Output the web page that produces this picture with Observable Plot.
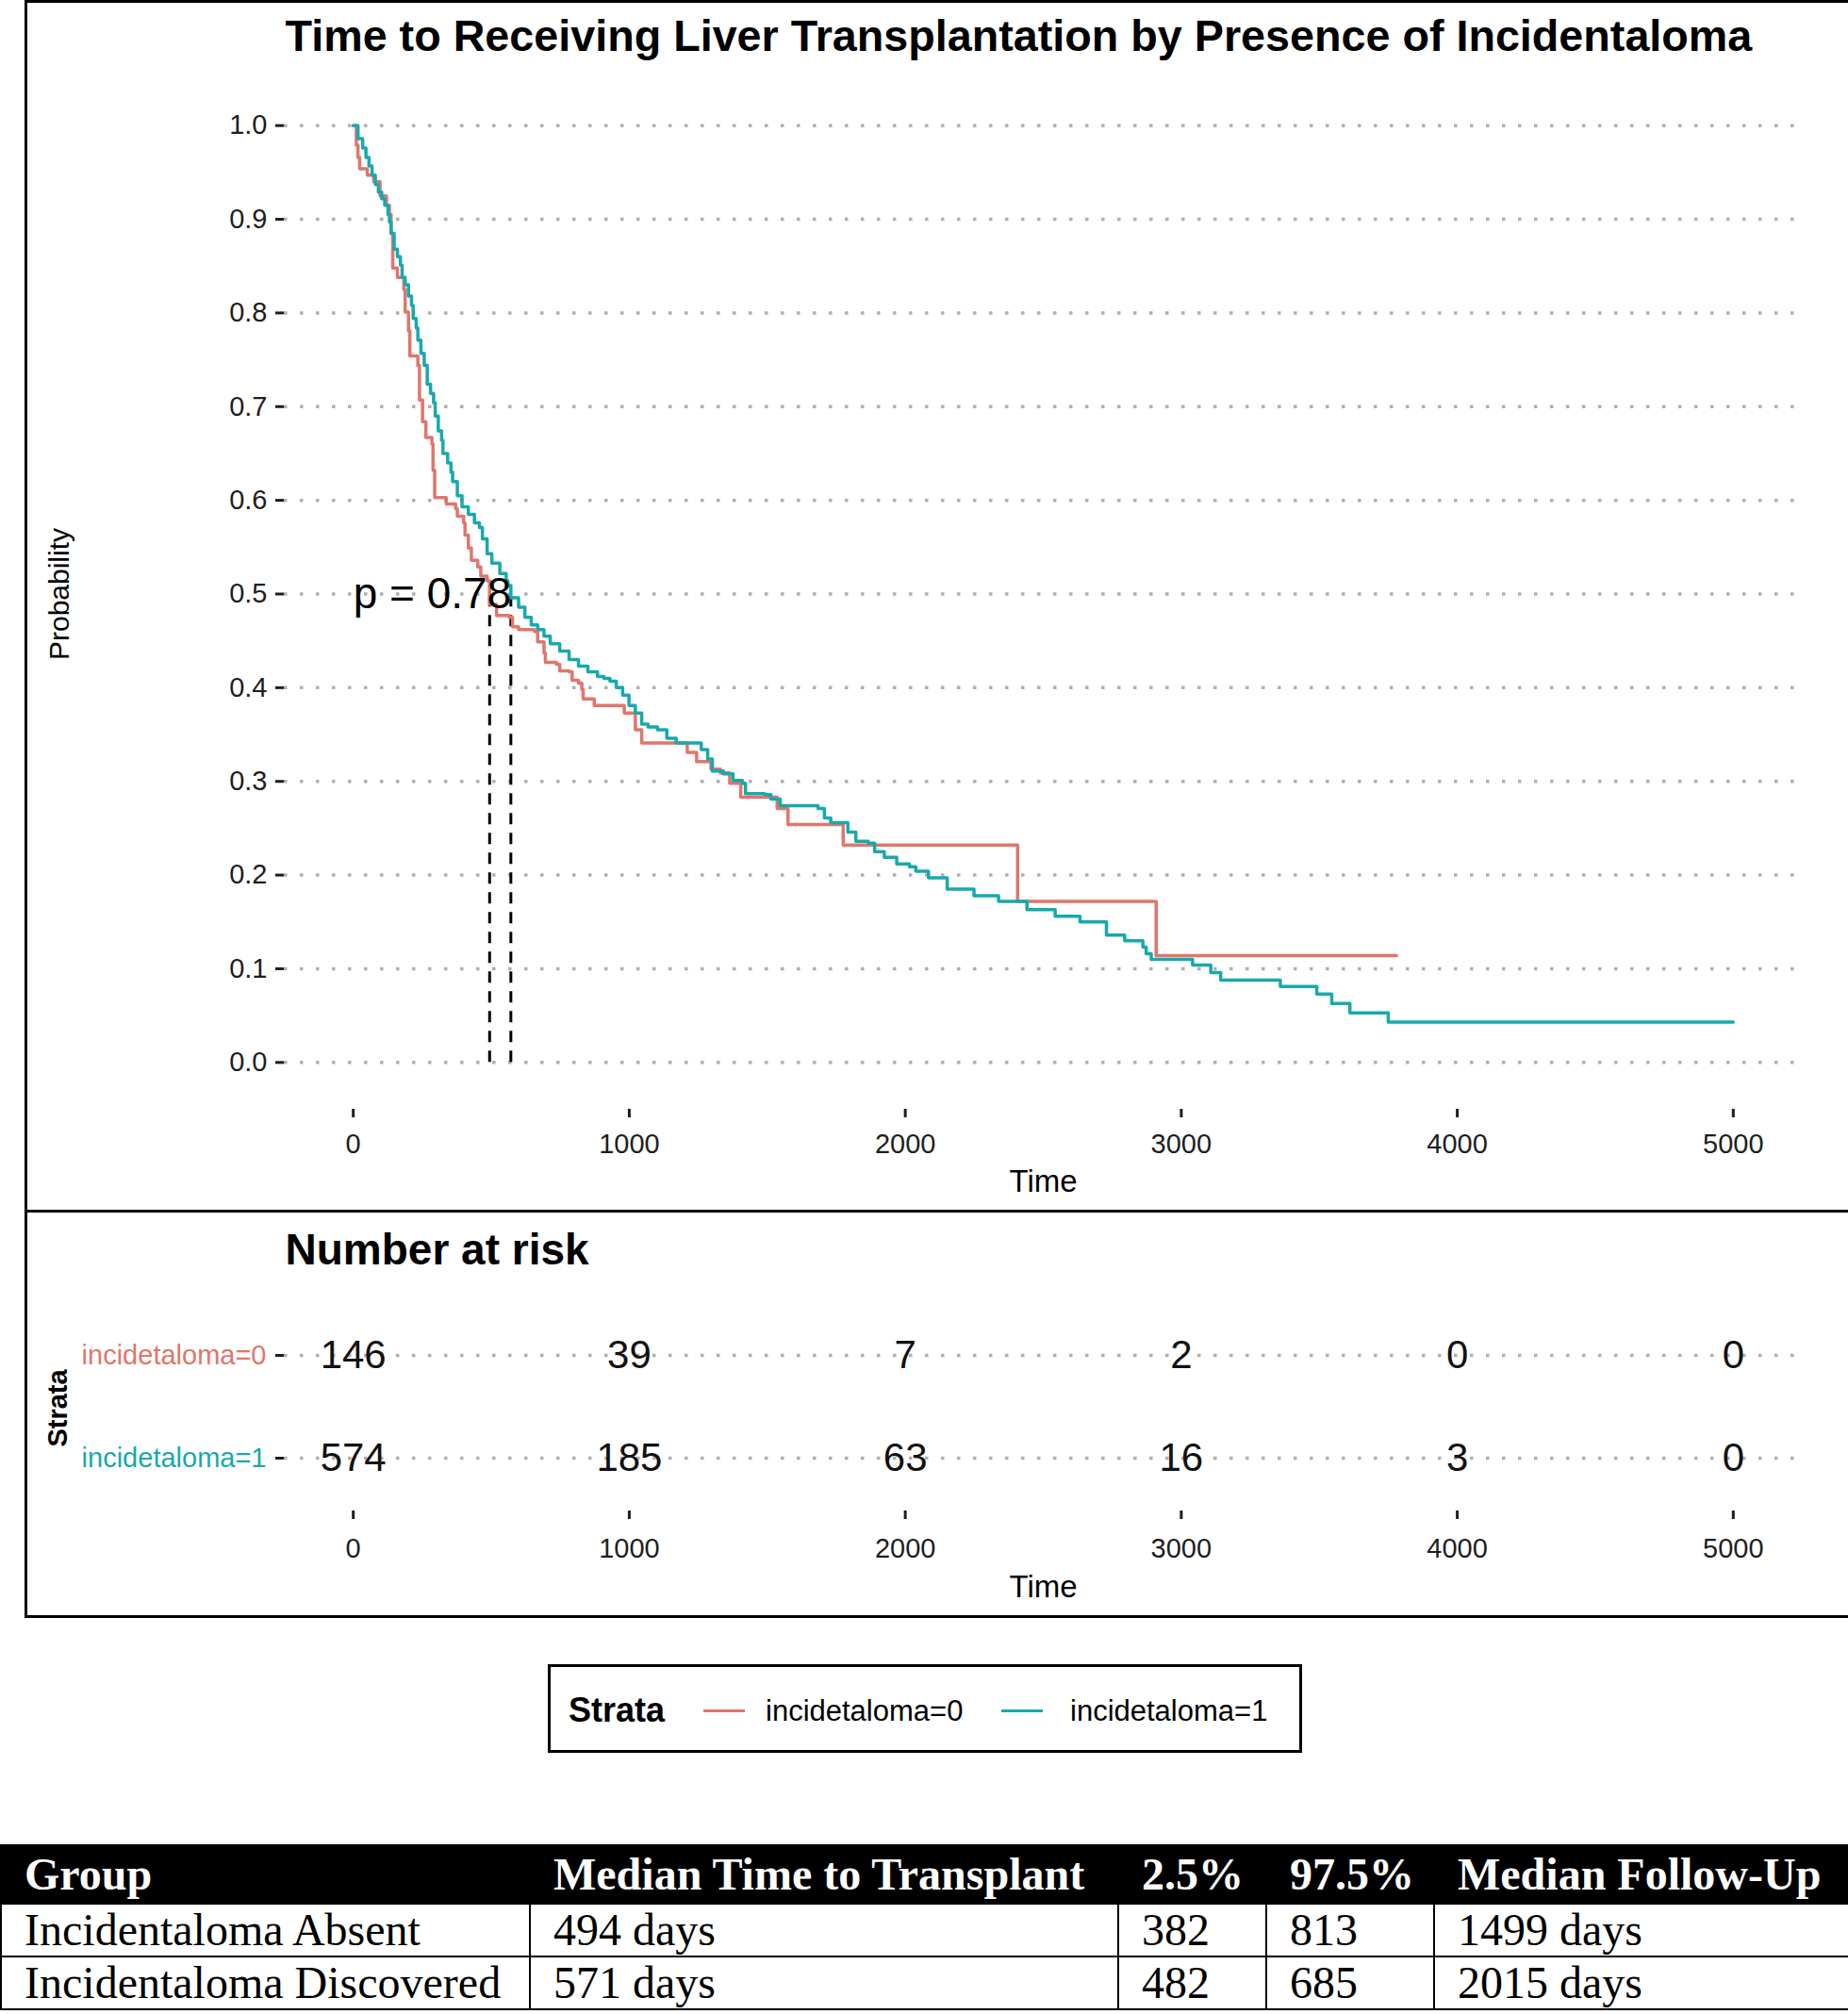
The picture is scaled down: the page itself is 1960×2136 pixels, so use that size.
<!DOCTYPE html>
<html>
<head>
<meta charset="utf-8">
<script src="https://cdn.jsdelivr.net/npm/d3@7"></script>
<script src="https://cdn.jsdelivr.net/npm/@observablehq/plot@0.6"></script>
<style>
html, body { margin: 0; padding: 0; background: #fff; }
#page { position: relative; width: 1960px; height: 2136px; overflow: hidden; font-family: "Liberation Sans", Arial, sans-serif; background: #fff; }
.abs { position: absolute; }
.hline { position: absolute; background: #000; }
#legend { position: absolute; left: 581px; top: 1765px; width: 800px; height: 94px; box-sizing: border-box; border: 3px solid #000; background: #fff; }
.lg { position: absolute; white-space: nowrap; line-height: 1; }
#tbl { position: absolute; left: 0; top: 1956px; width: 1960px; border-collapse: collapse; table-layout: fixed;
  font-family: "Liberation Serif", "Times New Roman", serif; font-size: 48px; }
#tbl th { background: #000; color: #fff; font-weight: bold; text-align: left; padding: 0 0 0 24px; border: 2px solid #000; height: 60px; line-height: 1; white-space: nowrap; }
#tbl td { text-align: left; padding: 0 0 0 24px; border: 2px solid #000; height: 54px; line-height: 1; white-space: nowrap; }
</style>
</head>
<body>
<div id="page"></div>
<script>
// ---------- data ----------
const strata = ["incidetaloma=0", "incidetaloma=1"];
const strataColors = ["#E0766C", "#18A9AC"];
const titleText = "Time to Receiving Liver Transplantation by Presence of Incidentaloma";
const timeTicks = [0, 1000, 2000, 3000, 4000, 5000];
const probTicks = [0, 0.1, 0.2, 0.3, 0.4, 0.5, 0.6, 0.7, 0.8, 0.9, 1.0];

const time0 = [0,11,17,23,51,74,97,120,131,137,143,160,183,188,200,205,234,240,251,263,285,289,295,337,371,377,400,405,417,428,451,462,485,494,519,565,577,599,656,668,691,696,736,748,782,793,816,828,833,873,982,1022,1045,1210,1244,1296,1330,1364,1404,1536,1575,1775,2407,2909,3780];
const surv0 = [1,0.979,0.966,0.954,0.947,0.940,0.925,0.915,0.905,0.885,0.848,0.838,0.825,0.801,0.781,0.754,0.744,0.707,0.684,0.667,0.660,0.632,0.603,0.596,0.591,0.583,0.576,0.563,0.549,0.536,0.529,0.519,0.514,0.489,0.477,0.475,0.465,0.462,0.460,0.449,0.437,0.427,0.425,0.418,0.417,0.408,0.405,0.398,0.388,0.381,0.373,0.355,0.341,0.331,0.321,0.313,0.309,0.298,0.283,0.271,0.254,0.232,0.172,0.114,0.114];

const time1 = [0,17,34,46,57,68,80,91,103,114,126,131,137,148,160,171,177,188,200,211,217,228,234,245,257,268,280,291,297,308,320,325,342,354,360,377,394,417,439,457,468,485,502,531,554,560,571,599,622,645,668,691,714,748,782,816,850,885,908,930,953,976,999,1022,1045,1068,1102,1136,1170,1261,1284,1301,1341,1376,1410,1421,1490,1513,1547,1684,1707,1730,1792,1821,1866,1889,1924,1969,2015,2038,2084,2152,2249,2338,2441,2543,2633,2729,2795,2861,2873,2891,3041,3107,3143,3359,3491,3545,3611,3750,5000];
const surv1 = [1,0.986,0.976,0.966,0.957,0.947,0.937,0.929,0.922,0.915,0.905,0.897,0.885,0.868,0.860,0.851,0.838,0.830,0.818,0.808,0.794,0.784,0.771,0.757,0.744,0.724,0.714,0.704,0.690,0.674,0.664,0.650,0.640,0.630,0.620,0.605,0.593,0.585,0.576,0.571,0.559,0.543,0.533,0.522,0.514,0.509,0.496,0.486,0.475,0.467,0.462,0.455,0.447,0.439,0.430,0.423,0.417,0.412,0.410,0.407,0.400,0.392,0.381,0.373,0.361,0.358,0.355,0.346,0.341,0.334,0.324,0.311,0.308,0.301,0.298,0.287,0.286,0.281,0.274,0.271,0.261,0.256,0.246,0.236,0.234,0.225,0.219,0.212,0.209,0.204,0.197,0.185,0.178,0.172,0.163,0.156,0.150,0.136,0.130,0.123,0.116,0.110,0.104,0.096,0.088,0.081,0.073,0.063,0.053,0.043,0.043];

const medianTimes = [494, 571];
const medianLevel = 0.5;
const pValueLabel = "p = 0.78";

const riskTimes = [0, 1000, 2000, 3000, 4000, 5000];
const risk0 = [146, 39, 7, 2, 0, 0];
const risk1 = [574, 185, 63, 16, 3, 0];

const tableHeader = ["Group", "Median Time to Transplant", "2.5%", "97.5%", "Median Follow-Up"];
const tableGroups = ["Incidentaloma Absent", "Incidentaloma Discovered"];
const tableMedian = ["494 days", "571 days"];
const tableLow = ["382", "482"];
const tableHigh = ["813", "685"];
const tableFollow = ["1499 days", "2015 days"];
const tableColWidths = [561, 624, 157, 178, 440];

// ---------- derived tables ----------
const curveRows = [
  ...time0.map((t, i) => ({time: t, surv: surv0[i], group: strata[0]})),
  ...time1.map((t, i) => ({time: t, surv: surv1[i], group: strata[1]}))
];
const riskRows = [
  ...riskTimes.map((t, i) => ({time: t, n: risk0[i], group: strata[0]})),
  ...riskTimes.map((t, i) => ({time: t, n: risk1[i], group: strata[1]}))
];

const page = document.getElementById("page");
const font = "Liberation Sans, Arial, sans-serif";
const xDomain = [-250, 5250];
const gridStyle = {stroke: "#b0b0b0", strokeWidth: 3.5, strokeDasharray: "3.5,13.5"};
const inkColor = "#1e1e1e";
const plainNum = d3.format("d");

// ---------- main survival plot ----------
const main = Plot.plot({
  width: 1960, height: 1284,
  marginLeft: 301, marginRight: 49, marginTop: 83, marginBottom: 108,
  style: {fontFamily: font, background: "transparent", color: inkColor},
  x: {domain: xDomain},
  y: {domain: [-0.05, 1.05]},
  color: {domain: strata, range: strataColors},
  marks: [
    Plot.ruleY(probTicks, {y: d => d, ...gridStyle}),
    Plot.ruleX(medianTimes, {x: d => d, y1: 0, y2: medianLevel, stroke: "#000", strokeWidth: 3, strokeDasharray: "12,9"}),
    Plot.line(curveRows, {x: "time", y: "surv", z: "group", stroke: "group", curve: "step-after", strokeWidth: 3.5}),
    Plot.text([pValueLabel], {x: 0, y: medianLevel, text: d => d, textAnchor: "start", fontSize: 46, fill: "#000"}),
    Plot.axisX(timeTicks, {tickSize: 9, tickPadding: 17, strokeWidth: 3, fontSize: 29, tickFormat: plainNum, label: null, color: inkColor}),
    Plot.axisY(probTicks, {tickSize: 9, tickPadding: 9, strokeWidth: 3, fontSize: 29, tickFormat: d3.format(".1f"), label: null, color: inkColor}),
    Plot.text(["Time"], {frameAnchor: "bottom", dy: 77, lineAnchor: "middle", text: d => d, fontSize: 33, fill: "#000"}),
    Plot.text(["Probability"], {frameAnchor: "left", dx: -238, rotate: -90, textAnchor: "middle", lineAnchor: "middle", text: d => d, fontSize: 30, fill: "#000"}),
    Plot.text([titleText], {frameAnchor: "top-left", dx: 1, dy: -44, textAnchor: "start", lineAnchor: "middle", text: d => d, fontSize: 46.7, fontWeight: "bold", fill: "#000"})
  ]
});
const mainWrap = document.createElement("div");
mainWrap.className = "abs";
mainWrap.style.left = "0px"; mainWrap.style.top = "0px";
mainWrap.appendChild(main);
page.appendChild(mainWrap);

// ---------- risk table plot ----------
const risk = Plot.plot({
  width: 1960, height: 429,
  marginLeft: 301, marginRight: 49, marginTop: 100, marginBottom: 111,
  style: {fontFamily: font, background: "transparent", color: inkColor},
  x: {domain: xDomain},
  y: {type: "point", domain: strata, range: [153, 262], padding: 0},
  color: {domain: strata, range: strataColors},
  marks: [
    Plot.ruleY(strata, {y: d => d, ...gridStyle}),
    Plot.text(riskRows, {x: "time", y: "group", text: "n", fontSize: 42, fill: "#111"}),
    Plot.axisY(strata, {tickSize: 9, strokeWidth: 3, fill: "none", stroke: inkColor, label: null}),
    Plot.text(strata, {y: d => d, frameAnchor: "left", dx: -19, textAnchor: "end", lineAnchor: "middle", text: d => d, fill: d => d, fontSize: 29}),
    Plot.axisX(timeTicks, {tickSize: 9, tickPadding: 20, strokeWidth: 3, fontSize: 29, tickFormat: plainNum, label: null, color: inkColor}),
    Plot.text(["Time"], {frameAnchor: "bottom", dy: 81, lineAnchor: "middle", text: d => d, fontSize: 33, fill: "#000"}),
    Plot.text(["Strata"], {frameAnchor: "left", dx: -240, rotate: -90, textAnchor: "middle", lineAnchor: "middle", text: d => d, fontSize: 29, fontWeight: "bold", fill: "#000"}),
    Plot.text(["Number at risk"], {frameAnchor: "top-left", dx: 1, dy: -58, textAnchor: "start", lineAnchor: "middle", text: d => d, fontSize: 46, fontWeight: "bold", fill: "#000"})
  ]
});
const riskWrap = document.createElement("div");
riskWrap.className = "abs";
riskWrap.style.left = "0px"; riskWrap.style.top = "1284px";
riskWrap.appendChild(risk);
page.appendChild(riskWrap);

// ---------- panel borders ----------
function hline(l, t, w, h) {
  const d = document.createElement("div");
  d.className = "hline";
  d.style.left = l + "px"; d.style.top = t + "px"; d.style.width = w + "px"; d.style.height = h + "px";
  page.appendChild(d);
}
hline(26, 0, 1934, 3);
hline(26, 1283, 1934, 3);
hline(26, 1713, 1934, 3);
hline(26, 0, 3, 1716);

// ---------- legend ----------
const legend = document.createElement("div");
legend.id = "legend";
page.appendChild(legend);
const legLeft = 581, legTop = 1765, legMid = 1814;
function legItem(html, left, styles) {
  const s = document.createElement("div");
  s.className = "lg";
  s.textContent = html;
  s.style.left = (left - legLeft - 3) + "px";
  Object.assign(s.style, styles);
  legend.appendChild(s);
  return s;
}
legItem("Strata", 603, {fontWeight: "bold", fontSize: "36px"});
const segStarts = [746, 1062];
const labStarts = [812, 1135];
strata.forEach((s, i) => {
  const seg = document.createElement("div");
  seg.className = "lg";
  seg.style.left = (segStarts[i] - legLeft - 3) + "px";
  seg.style.width = "44px";
  seg.style.height = "3px";
  seg.style.background = strataColors[i];
  seg.style.top = (legMid - legTop - 3 - 1.5) + "px";
  legend.appendChild(seg);
  legItem(s, labStarts[i], {fontSize: "31px"});
});
legend.querySelectorAll(".lg").forEach(el => {
  if (el.textContent) {
    const h = el.getBoundingClientRect().height;
    el.style.top = (legMid - legTop - 3 - h / 2) + "px";
  }
});

// ---------- summary table ----------
const tbl = document.createElement("table");
tbl.id = "tbl";
const cg = document.createElement("colgroup");
tableColWidths.forEach(w => { const c = document.createElement("col"); c.style.width = w + "px"; cg.appendChild(c); });
tbl.appendChild(cg);
const thead = document.createElement("tr");
tableHeader.forEach(h => { const th = document.createElement("th"); th.textContent = h; thead.appendChild(th); });
tbl.appendChild(thead);
tableGroups.forEach((g, i) => {
  const tr = document.createElement("tr");
  [g, tableMedian[i], tableLow[i], tableHigh[i], tableFollow[i]].forEach(v => {
    const td = document.createElement("td"); td.textContent = v; tr.appendChild(td);
  });
  tbl.appendChild(tr);
});
page.appendChild(tbl);
</script>
</body>
</html>
